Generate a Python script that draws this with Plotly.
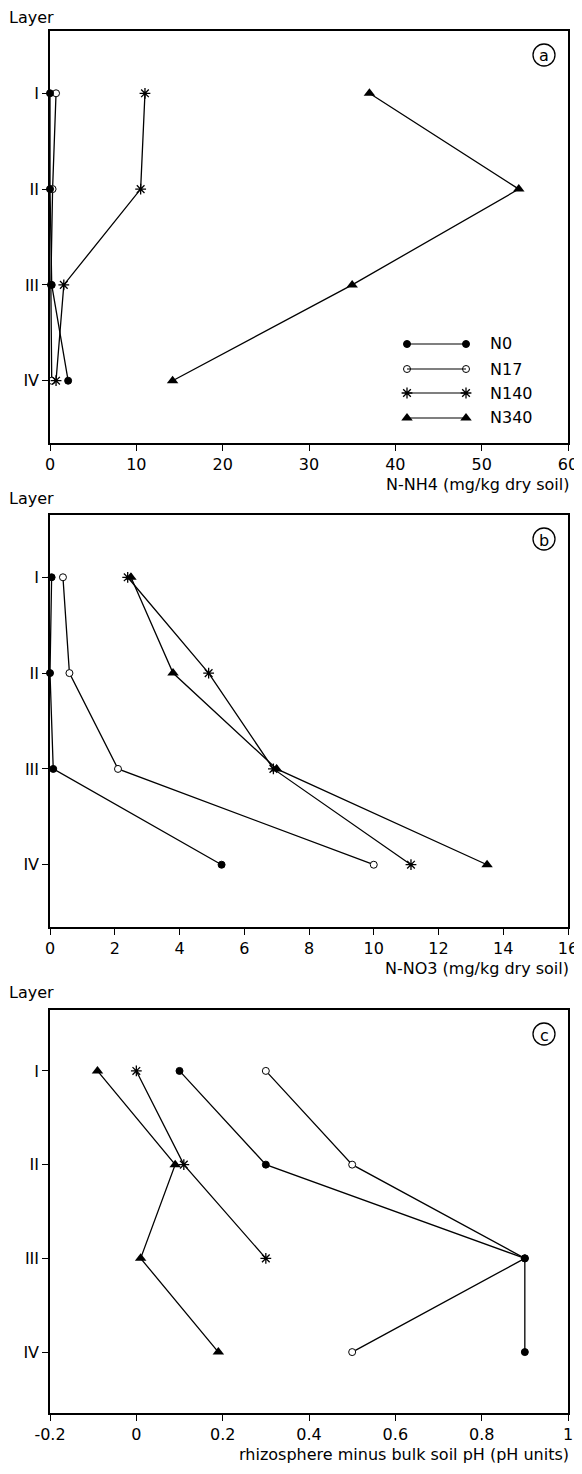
import plotly.graph_objects as go

# page window size and the 8px body margin of the written html page
PAGE_W, PAGE_H, OFF = 582, 1474, 8
W, H = PAGE_W - OFF, PAGE_H - OFF

# ---------------- data ----------------
layers = ["I", "II", "III", "IV"]
layer_pos = [1, 2, 3, 4]
series = ["N0", "N17", "N140", "N340"]

# panel a: N-NH4 (mg/kg dry soil)
nh4_N0 = [0.0, 0.0, 0.2, 2.1]
nh4_N17 = [0.7, 0.3, 0.1, 0.2]
nh4_N140 = [11.0, 10.5, 1.6, 0.7]
nh4_N340 = [37.0, 54.3, 35.0, 14.2]

# panel b: N-NO3 (mg/kg dry soil)
no3_N0 = [0.05, 0.0, 0.1, 5.3]
no3_N17 = [0.4, 0.6, 2.1, 10.0]
no3_N140 = [2.4, 4.9, 6.9, 11.15]
no3_N340 = [2.5, 3.8, 7.0, 13.5]

# panel c: rhizosphere minus bulk soil pH (pH units)
ph_N0 = [0.1, 0.3, 0.9, 0.9]
ph_N17 = [0.3, 0.5, 0.9, 0.5]
ph_N140 = [0.0, 0.11, 0.3, None]
ph_N340 = [-0.09, 0.09, 0.01, 0.19]

nh4_ticks = [0, 10, 20, 30, 40, 50, 60]
no3_ticks = [0, 2, 4, 6, 8, 10, 12, 14, 16]
ph_tickvals = [-0.2, 0, 0.2, 0.4, 0.6, 0.8, 1.0]
ph_ticktext = ["-0.2", "0", "0.2", "0.4", "0.6", "0.8", "1"]

x_titles = ["N-NH4 (mg/kg dry soil)", "N-NO3 (mg/kg dry soil)",
            "rhizosphere minus bulk soil pH (pH units)"]
panel_letters = ["a", "b", "c"]

# ---------------- styles ----------------
FONT = "DejaVu Sans"
FS = 16
marker_style = {
    "N0": dict(symbol="circle", size=7, color="black", line=dict(color="black", width=1)),
    "N17": dict(symbol="circle", size=7, color="white", line=dict(color="black", width=1)),
    "N140": dict(symbol="asterisk-open", size=9, color="black", line=dict(color="black", width=1.3)),
    "N340": dict(symbol="triangle-up", size=10, color="black", line=dict(color="black", width=0)),
}
draw_order = ["N17", "N140", "N340", "N0"]


def py(p):
    return 1 - (p - OFF) / H


def px(p):
    return (p - OFF) / W


x_dom = [px(50), px(568)]
boxes = [(31, 443), (515, 927), (1010, 1413)]

fig = go.Figure()

panel_data = [
    dict(zip(series, [nh4_N0, nh4_N17, nh4_N140, nh4_N340])),
    dict(zip(series, [no3_N0, no3_N17, no3_N140, no3_N340])),
    dict(zip(series, [ph_N0, ph_N17, ph_N140, ph_N340])),
]

for i, pdata in enumerate(panel_data):
    xa = "x" if i == 0 else f"x{i+1}"
    ya = "y" if i == 0 else f"y{i+1}"
    for name in draw_order:
        fig.add_trace(go.Scatter(
            x=pdata[name], y=layer_pos, mode="lines+markers", name=name,
            xaxis=xa, yaxis=ya, cliponaxis=False, showlegend=False,
            line=dict(color="black", width=1.3),
            marker=marker_style[name],
        ))

axis_common = dict(showline=True, linecolor="black", linewidth=1.5, mirror=True,
                   showgrid=False, zeroline=False, ticks="outside", ticklen=6,
                   tickwidth=1.2, tickcolor="black", automargin=False,
                   tickfont=dict(family=FONT, size=FS, color="black"))

x_specs = [
    dict(range=[0, 60], tickvals=nh4_ticks),
    dict(range=[0, 16], tickvals=no3_ticks),
    dict(range=[-0.2, 1.0], tickvals=ph_tickvals, ticktext=ph_ticktext),
]

layout = dict(
    width=W, height=H, margin=dict(l=0, r=0, t=0, b=0, autoexpand=False),
    paper_bgcolor="white", plot_bgcolor="rgba(0,0,0,0)", showlegend=False,
    font=dict(family=FONT, color="black"),
)

for i, (top, bot) in enumerate(boxes):
    suf = "" if i == 0 else str(i + 1)
    layout["xaxis" + suf] = dict(domain=x_dom, anchor="y" + suf, **x_specs[i], **axis_common)
    layout["yaxis" + suf] = dict(domain=[py(bot), py(top)], anchor="x" + suf,
                                 range=[4.65, 0.35], tickvals=layer_pos, ticktext=layers,
                                 **axis_common)

# invisible helper axis spanning the figure in page pixels (for legend end markers)
layout["xaxis9"] = dict(domain=[0, 1], range=[OFF, PAGE_W], visible=False, anchor="y9", automargin=False)
layout["yaxis9"] = dict(domain=[0, 1], range=[PAGE_H, OFF], visible=False, anchor="x9", automargin=False)

fig.update_layout(**layout)

annotations = []
shapes = []
for i, (top, bot) in enumerate(boxes):
    annotations.append(dict(text="Layer", x=px(7), y=py(max(top - 17, 18)), xref="paper", yref="paper",
                            xanchor="left", yanchor="middle", showarrow=False,
                            font=dict(family=FONT, size=FS, color="black")))
    annotations.append(dict(text=x_titles[i], x=px(571), y=py(bot + 41), xref="paper", yref="paper",
                            xanchor="right", yanchor="middle", showarrow=False,
                            font=dict(family=FONT, size=FS, color="black")))
    cx, cy, r = 544, top + 24, 11
    shapes.append(dict(type="circle", xref="paper", yref="paper",
                       x0=px(cx - r), x1=px(cx + r), y0=py(cy + r), y1=py(cy - r),
                       line=dict(color="black", width=1.3)))
    annotations.append(dict(text=panel_letters[i], x=px(cx), y=py(cy + 1), xref="paper", yref="paper",
                            xanchor="center", yanchor="middle", showarrow=False,
                            font=dict(family=FONT, size=FS, color="black")))

leg_x0, leg_x1, leg_tx = 407, 466, 488
leg_y = [344, 369, 393, 418]
for name, yy in zip(series, leg_y):
    shapes.append(dict(type="line", xref="paper", yref="paper",
                       x0=px(leg_x0), x1=px(leg_x1), y0=py(yy), y1=py(yy),
                       line=dict(color="black", width=1.2)))
    annotations.append(dict(text=name, x=px(leg_tx), y=py(yy), xref="paper", yref="paper",
                            xanchor="left", yanchor="middle", showarrow=False,
                            font=dict(family=FONT, size=FS, color="black")))

fig.update_layout(annotations=annotations, shapes=shapes)

for name, yy in zip(series, leg_y):
    fig.add_trace(go.Scatter(
        x=[leg_x0, leg_x1], y=[yy, yy], mode="markers", xaxis="x9", yaxis="y9",
        marker=marker_style[name], showlegend=False, hoverinfo="skip", cliponaxis=False,
    ))

fig.write_html("out.html")
